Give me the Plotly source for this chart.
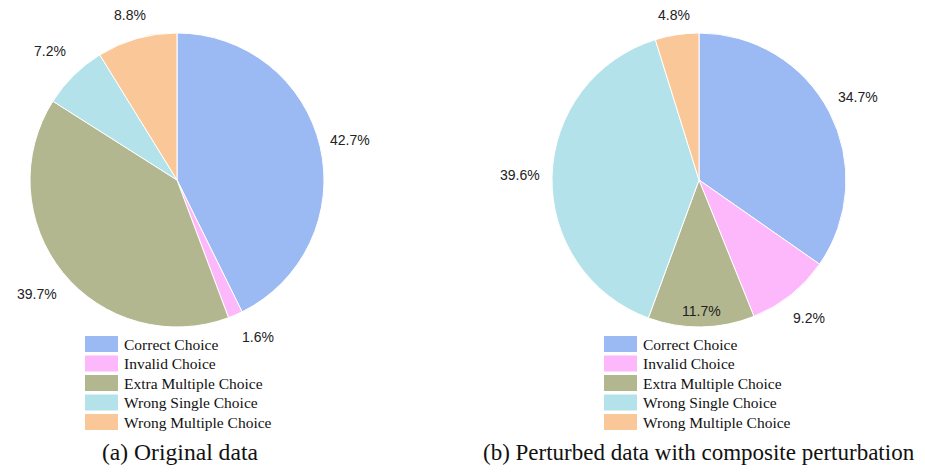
import numpy as np
import plotly.graph_objects as go

categories = ["Correct Choice", "Invalid Choice", "Extra Multiple Choice",
              "Wrong Single Choice", "Wrong Multiple Choice"]
original_values = [42.7, 1.6, 39.7, 7.2, 8.8]
perturbed_values = [34.7, 9.2, 11.7, 39.6, 4.8]
captions = ["(a) Original data", "(b) Perturbed data with composite perturbation"]
colors = ["#9bb9f2", "#fdb7fb", "#b3b78f", "#b4e2ea", "#fac898"]

# label placement style (radius factor per slice, angle nudge in degrees)
label_radius = [[1.21, 1.2, 1.23, 1.23, 1.165], [1.22, 1.2, 0.89, 1.22, 1.135]]
label_nudge = [[0, -4, 0, 0, 0], [0, 0, 0, 0, 0]]

OFF = 8  # page body margin
W, H = 925 - 2 * OFF, 474 - 2 * OFF
R = 147
centers = [(177 - OFF, 180 - OFF), (699 - OFF, 180 - OFF)]
caption_x = [180 - OFF, 699 - OFF]
caption_size = [23.6, 23.0]
legend_left = [85 - OFF, 604 - OFF]

fig = go.Figure()
annotations = []
shapes = []

for i, (vals, (cx, cy)) in enumerate(zip([original_values, perturbed_values], centers)):
    fig.add_trace(go.Pie(
        labels=categories, values=vals, sort=False, direction="clockwise", rotation=0,
        marker=dict(colors=colors, line=dict(color="white", width=1)),
        textinfo="none", hoverinfo="label+percent", showlegend=False,
        domain=dict(x=[(cx - R) / W, (cx + R) / W], y=[1 - (cy + R) / H, 1 - (cy - R) / H]),
    ))
    v = np.array(vals, dtype=float)
    frac = v / v.sum()
    mids = np.cumsum(frac) - frac / 2
    ang = mids * 2 * np.pi + np.radians(label_nudge[i])
    for f, a, rf in zip(frac, ang, label_radius[i]):
        px = cx + rf * R * np.sin(a)
        py = cy - rf * R * np.cos(a)
        annotations.append(dict(x=px / W, y=1 - py / H, xref="paper", yref="paper",
                                text=f"{f*100:.1f}%", showarrow=False,
                                xanchor="center", yanchor="middle",
                                font=dict(family="Liberation Sans, Arial", size=14, color="#222")))
    # manual legend
    lx = legend_left[i]
    for k, (cat, col) in enumerate(zip(categories, colors)):
        yc = 344 - OFF + k * 19.5
        shapes.append(dict(type="rect", xref="paper", yref="paper",
                           x0=lx / W, x1=(lx + 33) / W,
                           y0=1 - (yc + 8) / H, y1=1 - (yc - 8) / H,
                           fillcolor=col, line=dict(width=0)))
        annotations.append(dict(x=(lx + 37) / W, y=1 - yc / H, xref="paper", yref="paper",
                                text=cat, showarrow=False, xanchor="left", yanchor="middle",
                                font=dict(family="Liberation Serif, Times New Roman", size=15.5, color="#111")))
    annotations.append(dict(x=caption_x[i] / W, y=1 - (452 - OFF) / H, xref="paper", yref="paper",
                            text=captions[i], showarrow=False, xanchor="center", yanchor="middle",
                            font=dict(family="Liberation Serif, Times New Roman", size=caption_size[i], color="#111")))

fig.update_layout(width=W, height=H, margin=dict(l=0, r=0, t=0, b=0),
                  paper_bgcolor="white", plot_bgcolor="white",
                  annotations=annotations, shapes=shapes, showlegend=False)
fig.write_html("out.html")
